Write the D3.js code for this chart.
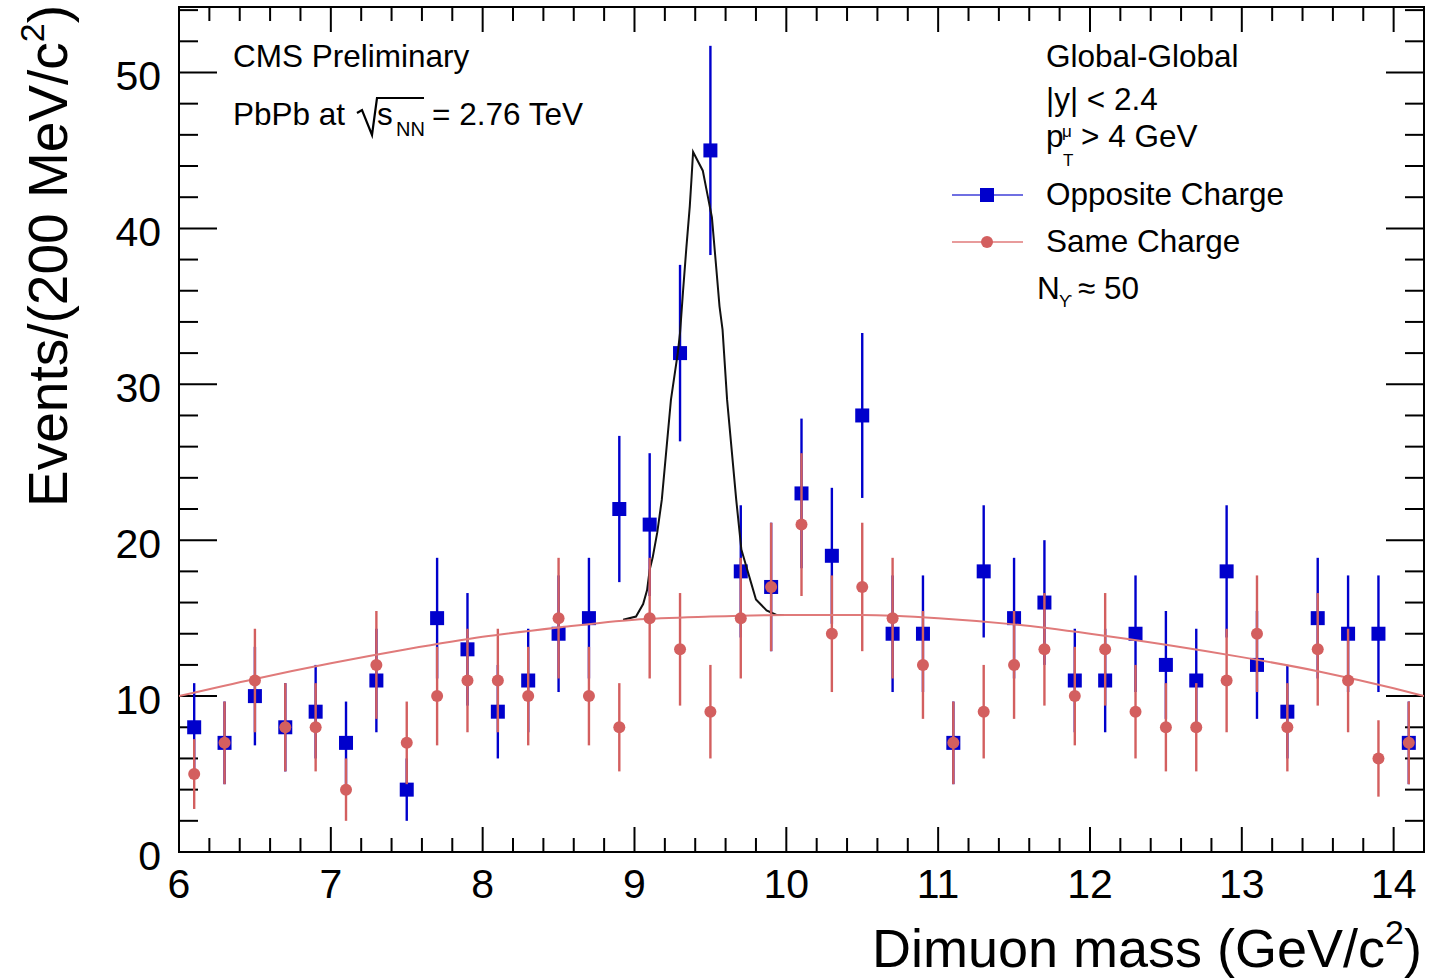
<!DOCTYPE html>
<html>
<head>
<meta charset="utf-8">
<script src="https://cdn.jsdelivr.net/npm/d3@7"></script>
<style>
  html, body { margin: 0; padding: 0; background: #fff; }
  svg { display: block; }
  text { font-family: "Liberation Sans", Arial, Helvetica, sans-serif; fill: #000; }
</style>
</head>
<body>
<svg id="chart" width="1434" height="978"></svg>
<script>
// ---------------- data ----------------
const binCenters = [6.1,6.3,6.5,6.7,6.9,7.1,7.3,7.5,7.7,7.9,8.1,8.3,8.5,8.7,8.9,9.1,9.3,9.5,9.7,9.9,
  10.1,10.3,10.5,10.7,10.9,11.1,11.3,11.5,11.7,11.9,12.1,12.3,12.5,12.7,12.9,13.1,13.3,13.5,13.7,13.9,14.1];

const oppositeCharge = [8,7,10,8,9,7,11,4,15,13,9,11,14,15,22,21,32,45,18,17,
  23,19,28,14,14,7,18,15,16,11,11,14,12,11,18,12,9,15,14,14,7];
const oppositeErr = [2.83,2.65,3.16,2.83,3.0,2.65,3.32,2.0,3.87,3.61,3.0,3.32,3.74,3.87,4.69,4.58,5.66,6.71,4.24,4.12,
  4.80,4.36,5.29,3.74,3.74,2.65,4.24,3.87,4.0,3.32,3.32,3.74,3.46,3.32,4.24,3.46,3.0,3.87,3.74,3.74,2.65];

const sameCharge = [5,7,11,8,8,4,12,7,10,11,11,10,15,10,8,15,13,9,15,17,
  21,14,17,15,12,7,9,12,13,10,13,9,8,8,11,14,8,13,11,6,7];
const sameErr = [2.24,2.65,3.32,2.83,2.83,2.0,3.46,2.65,3.16,3.32,3.32,3.16,3.87,3.16,2.83,3.87,3.61,3.0,3.87,4.12,
  4.58,3.74,4.12,3.87,3.46,2.65,3.0,3.46,3.61,3.16,3.61,3.0,2.83,2.83,3.32,3.74,2.83,3.61,3.32,2.45,2.65];

// background fit (same charge)
const bkgFitX = [6.0,6.5,7.0,7.5,8.0,8.5,9.0,9.5,10.0,10.5,11.0,11.5,12.0,12.5,13.0,13.5,14.0,14.2];
const bkgFitY = [10.0,11.1,12.1,13.0,13.8,14.4,14.9,15.1,15.2,15.2,15.0,14.6,14.0,13.3,12.5,11.6,10.5,10.0];

// signal + background fit (opposite charge)
const sigFitX = [8.925,9.01,9.057,9.083,9.10,9.12,9.15,9.18,9.24,9.285,9.30,9.32,9.342,9.364,9.375,9.386,
  9.45,9.48,9.51,9.54,9.56,9.58,9.61,9.67,9.704,9.737,9.77,9.80,9.87,9.935,10.02];
const sigFitY = [14.9,15.1,15.9,16.8,18.1,18.9,20.5,22.6,29.0,32.0,33.3,36.0,38.8,41.4,43.1,44.9,
  43.7,42.2,40.7,37.3,35.0,33.5,29.0,22.6,19.4,18.3,17.2,16.2,15.5,15.2,15.2];

const xDomain = [6, 14.2];
const yDomain = [0, 54.2];

// ---------------- layout ----------------
const L = 179, R = 1424, T = 7, B = 852;
const blue = "#0000cc", red = "#d35f5f", redLine = "#e07a7a";
const FS = 31.5;

const svg = d3.select("#chart");
const x = d3.scaleLinear().domain(xDomain).range([L, R]);
const y = d3.scaleLinear().domain(yDomain).range([B, T]);

// ---------------- ticks ----------------
const xMajor = x.ticks(8);
const xMinor = x.ticks(40).filter(v => !xMajor.some(m => Math.abs(m - v) < 1e-6));
const yMajor = y.ticks(5);
const yMinor = y.ticks(27).filter(v => !yMajor.some(m => Math.abs(m - v) < 1e-6));

const tickG = svg.append("g").attr("stroke", "#000").attr("stroke-width", 2);
function xt(vals, len) {
  vals.forEach(v => {
    tickG.append("line").attr("x1", x(v)).attr("x2", x(v)).attr("y1", B).attr("y2", B - len);
    tickG.append("line").attr("x1", x(v)).attr("x2", x(v)).attr("y1", T).attr("y2", T + len);
  });
}
function yt(vals, len) {
  vals.forEach(v => {
    tickG.append("line").attr("y1", y(v)).attr("y2", y(v)).attr("x1", L).attr("x2", L + len);
    tickG.append("line").attr("y1", y(v)).attr("y2", y(v)).attr("x1", R).attr("x2", R - len);
  });
}
xt(xMajor, 25); xt(xMinor, 14);
yt(yMajor, 38); yt(yMinor, 19);

// frame
svg.append("rect").attr("x", L).attr("y", T).attr("width", R - L).attr("height", B - T)
  .attr("fill", "none").attr("stroke", "#000").attr("stroke-width", 2);

// tick labels
svg.append("g").selectAll("text").data(xMajor).join("text")
  .attr("x", d => x(d)).attr("y", 898).attr("text-anchor", "middle")
  .attr("font-size", 41).text(d => d3.format("d")(d));
svg.append("g").selectAll("text").data(yMajor).join("text")
  .attr("x", 161).attr("y", d => y(d) + 18).attr("text-anchor", "end")
  .attr("font-size", 41).text(d => d3.format("d")(d));

// axis titles
const xt1 = svg.append("text").attr("x", 1422).attr("y", 967).attr("text-anchor", "end").attr("font-size", 54);
xt1.append("tspan").text("Dimuon mass (GeV/c");
xt1.append("tspan").attr("font-size", 34).attr("dy", -23).text("2");
xt1.append("tspan").attr("dy", 23).text(")");

const yt1 = svg.append("text").attr("transform", "translate(67,5) rotate(-90)")
  .attr("text-anchor", "end").attr("font-size", 55);
yt1.append("tspan").text("Events/(200 MeV/c");
yt1.append("tspan").attr("font-size", 34).attr("dy", -23).text("2");
yt1.append("tspan").attr("dy", 23).text(")");

// ---------------- data marks ----------------
svg.append("clipPath").attr("id", "plotclip").append("rect")
  .attr("x", L).attr("y", T).attr("width", R - L).attr("height", B - T);
const plot = svg.append("g").attr("clip-path", "url(#plotclip)");

const oppData = binCenters.map((c, i) => ({ x: c, v: oppositeCharge[i], e: oppositeErr[i] }));
const sameData = binCenters.map((c, i) => ({ x: c, v: sameCharge[i], e: sameErr[i] }));

// opposite charge: error bars + squares
plot.append("g").selectAll("line").data(oppData).join("line")
  .attr("x1", d => x(d.x)).attr("x2", d => x(d.x))
  .attr("y1", d => y(d.v - d.e)).attr("y2", d => y(d.v + d.e))
  .attr("stroke", blue).attr("stroke-width", 2.4);
plot.append("g").selectAll("rect").data(oppData).join("rect")
  .attr("x", d => x(d.x) - 7).attr("y", d => y(d.v) - 7)
  .attr("width", 14).attr("height", 14).attr("fill", blue);

// signal fit (black)
const line = d3.line().x(d => x(d[0])).y(d => y(d[1]));
plot.append("path").datum(sigFitX.map((v, i) => [v, sigFitY[i]]))
  .attr("d", line).attr("fill", "none").attr("stroke", "#111").attr("stroke-width", 2);

// same charge: error bars
plot.append("g").selectAll("line").data(sameData).join("line")
  .attr("x1", d => x(d.x)).attr("x2", d => x(d.x))
  .attr("y1", d => y(d.v - d.e)).attr("y2", d => y(d.v + d.e))
  .attr("stroke", red).attr("stroke-width", 2.4);

// background fit (red)
plot.append("path").datum(bkgFitX.map((v, i) => [v, bkgFitY[i]]))
  .attr("d", d3.line().curve(d3.curveMonotoneX).x(d => x(d[0])).y(d => y(d[1])))
  .attr("fill", "none").attr("stroke", redLine).attr("stroke-width", 2);

// same charge markers (rounded diamond-ish)
plot.append("g").selectAll("circle").data(sameData).join("circle")
  .attr("cx", d => x(d.x)).attr("cy", d => y(d.v)).attr("r", 6).attr("fill", red);

// ---------------- texts ----------------
svg.append("text").attr("x", 233).attr("y", 67).attr("font-size", FS).text("CMS Preliminary");
svg.append("text").attr("x", 233).attr("y", 125).attr("font-size", FS).text("PbPb at");
// sqrt sign
svg.append("path").attr("d", "M357,113 L362,110 L372,135 L377,98 L424,98")
  .attr("fill", "none").attr("stroke", "#000").attr("stroke-width", 2.2);
svg.append("text").attr("x", 377).attr("y", 125).attr("font-size", FS).text("s");
svg.append("text").attr("x", 396).attr("y", 136).attr("font-size", 20).text("NN");
svg.append("text").attr("x", 432).attr("y", 125).attr("font-size", FS).text("= 2.76 TeV");

svg.append("text").attr("x", 1046).attr("y", 67).attr("font-size", FS).text("Global-Global");
svg.append("text").attr("x", 1046).attr("y", 110).attr("font-size", FS).text("|y| < 2.4");
svg.append("text").attr("x", 1046).attr("y", 147).attr("font-size", FS).text("p");
svg.append("text").attr("x", 1062).attr("y", 137).attr("font-size", 17).text("μ");
svg.append("text").attr("x", 1063).attr("y", 166).attr("font-size", 17).text("T");
svg.append("text").attr("x", 1081).attr("y", 147).attr("font-size", FS).text("> 4 GeV");

// legend
svg.append("line").attr("x1", 952).attr("x2", 1023).attr("y1", 195).attr("y2", 195)
  .attr("stroke", blue).attr("stroke-width", 1.6).attr("opacity", 0.75);
svg.append("rect").attr("x", 987 - 7).attr("y", 195 - 7).attr("width", 14).attr("height", 14).attr("fill", blue);
svg.append("text").attr("x", 1046).attr("y", 205).attr("font-size", FS).text("Opposite Charge");
svg.append("line").attr("x1", 952).attr("x2", 1023).attr("y1", 242).attr("y2", 242)
  .attr("stroke", redLine).attr("stroke-width", 1.6);
svg.append("circle").attr("cx", 987).attr("cy", 242).attr("r", 6).attr("fill", red);
svg.append("text").attr("x", 1046).attr("y", 252).attr("font-size", FS).text("Same Charge");

svg.append("text").attr("x", 1037).attr("y", 299).attr("font-size", FS).text("N");
svg.append("text").attr("x", 1059).attr("y", 307).attr("font-size", 17).text("ϒ");
svg.append("text").attr("x", 1078).attr("y", 299).attr("font-size", FS).text("≈ 50");
</script>
</body>
</html>
